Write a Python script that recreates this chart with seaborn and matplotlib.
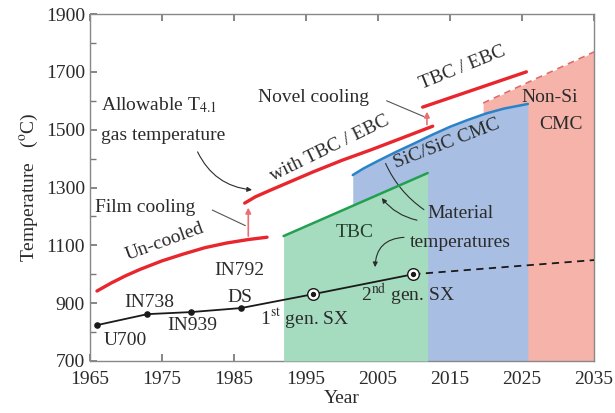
import numpy as np
import pandas as pd
import matplotlib
matplotlib.use("Agg")
import matplotlib.pyplot as plt
import seaborn as sns

# data
uncooled_year = [1966, 1968, 1970, 1972, 1975, 1978, 1981, 1984, 1987, 1989.6]
uncooled_temp = [942, 970, 995, 1017, 1046, 1070, 1092, 1108, 1120, 1128]
tbc_year = [1986.5, 1988, 1990, 1993, 1996, 2000, 2004, 2008, 2012.6]
tbc_temp = [1246, 1268, 1290, 1322, 1354, 1394, 1430, 1468, 1512]
novel_year = [2011.2, 2025.6]
novel_temp = [1578, 1700]

green_year = [1991.9, 2011.9]
green_temp = [1132, 1350]
blue_year = [2001.5, 2003, 2005, 2007.5, 2010, 2012.5, 2015, 2017.5, 2020, 2022.5, 2025.8]
blue_temp = [1343, 1366, 1392, 1423, 1452, 1482, 1510, 1534, 1556, 1573, 1589]
pink_year = [2019.6, 2035]
pink_temp = [1592, 1769]

alloy_names = ["U700", "IN738", "IN939", "DS", "1st gen. SX", "2nd gen. SX"]
alloy_year = [1966, 1973, 1979, 1986, 1996, 2009.9]
alloy_temp = [824, 862, 869, 883, 931, 1000]
future_year = [2009.9, 2035]
future_temp = [1000, 1049]

sns.set_theme(style="ticks")
plt.rcParams['font.family'] = ['Liberation Serif', 'DejaVu Serif']
plt.rcParams['mathtext.fontset'] = 'stix'

fig = plt.figure(figsize=(6.15, 4.13), dpi=100)
ax = fig.add_axes([0.146, 0.126, 0.82, 0.84])

red = '#e8262d'
txt = '#2b2b2b'
fs = 14

# filled regions
ax.fill_between(pink_year, pink_temp, 700, color='#f6b3a9', lw=0, zorder=1)
ax.fill_between(blue_year, blue_temp, 700, color='#a8bfe3', lw=0, zorder=2)
ax.fill_between(green_year, green_temp, 700, color='#a5dbbf', lw=0, zorder=3)

# lines
sns.lineplot(x=pink_year, y=pink_temp, ax=ax, color='#e06a6a', lw=1.2, ls=(0, (4, 3)), zorder=4)
sns.lineplot(x=blue_year, y=blue_temp, ax=ax, color='#2a82c8', lw=1.8, zorder=4)
sns.lineplot(x=green_year, y=green_temp, ax=ax, color='#22a050', lw=1.8, zorder=4)
for xs, ys in [(uncooled_year, uncooled_temp), (tbc_year, tbc_temp), (novel_year, novel_temp)]:
    sns.lineplot(x=xs, y=ys, ax=ax, color=red, lw=2.4, zorder=5)

# material temperature line
sns.lineplot(x=alloy_year, y=alloy_temp, ax=ax, color='#1a1a1a', lw=1.3, zorder=5)
sns.lineplot(x=future_year, y=future_temp, ax=ax, color='#1a1a1a', lw=1.3, ls=(0, (4, 3)), zorder=5)
ax.scatter(alloy_year[:4], alloy_temp[:4], s=14, color='#1a1a1a', zorder=6)
ax.scatter(alloy_year[4:], alloy_temp[4:], s=70, color='white', edgecolor='#1a1a1a', lw=1, zorder=6)
ax.scatter(alloy_year[4:], alloy_temp[4:], s=8, color='#1a1a1a', zorder=7)

# cooling step arrows
ax.annotate('', xy=(1987, 1240), xytext=(1987, 1122),
            arrowprops=dict(arrowstyle='-|>', color='#e87070', lw=1.2, mutation_scale=8), zorder=5)
ax.annotate('', xy=(2011.8, 1572), xytext=(2011.8, 1508),
            arrowprops=dict(arrowstyle='-|>', color='#e87070', lw=1.2, mutation_scale=8), zorder=5)

# labels
ax.text(1966.6, 1585, 'Allowable T$_{4.1}$', fontsize=fs, color=txt, va='center')
ax.text(1966.6, 1481, 'gas temperature', fontsize=fs, color=txt, va='center')
ax.annotate('', xy=(1987.9, 1291), xytext=(1979.8, 1432),
            arrowprops=dict(arrowstyle='-|>', color=txt, lw=0.8, mutation_scale=7,
                            connectionstyle='arc3,rad=0.3'))
ax.text(1988.3, 1613, 'Novel cooling', fontsize=fs, color=txt, va='center')
ax.plot([2006.2, 2011.4], [1600, 1545], color='#555555', lw=0.8)
ax.text(2016.7, 1713, 'TBC / EBC', fontsize=fs, color=txt, ha='center', va='center', rotation=22)
ax.text(1998.3, 1436, 'with TBC / EBC', fontsize=fs, color=txt, ha='center', va='center', rotation=26)
ax.text(1965.7, 1232, 'Film cooling', fontsize=fs, color=txt, va='center')
ax.plot([1982.0, 1986.6], [1222, 1168], color='#555555', lw=0.8)
ax.text(1975.4, 1111, 'Un-cooled', fontsize=fs, color=txt, ha='center', va='center', rotation=20)

alloy_label_pos = [(1969.9, 772), (1973.3, 903), (1979.2, 824), (1985.8, 921),
                   (1994.9, 848), (2009.2, 928)]
alloy_label_txt = ['U700', 'IN738', 'IN939', 'DS', '1$^{\\rm st}$ gen. SX', '2$^{\\rm nd}$ gen. SX']
for (px, py), t in zip(alloy_label_pos, alloy_label_txt):
    ax.text(px, py, t, fontsize=fs, color=txt, ha='center', va='center')
ax.text(1985.8, 1014, 'IN792', fontsize=fs, color=txt, ha='center', va='center')

ax.text(2001.8, 1146, 'TBC', fontsize=fs, color='#24402f', ha='center', va='center')
ax.text(2014.6, 1452, 'SiC/SiC CMC', fontsize=fs, color=txt, ha='center', va='center', rotation=21)
ax.text(2028.8, 1613, 'Non-Si', fontsize=fs, color=txt, ha='center', va='center')
ax.text(2030.4, 1519, 'CMC', fontsize=fs, color=txt, ha='center', va='center')
ax.text(2016.5, 1211, 'Material', fontsize=fs, color=txt, ha='center', va='center')
ax.text(2016.4, 1111, 'temperatures', fontsize=fs, color=txt, ha='center', va='center')
ax.annotate('', xy=(2005.9, 1392), xytext=(2011.7, 1218),
            arrowprops=dict(arrowstyle='-', color=txt, lw=0.8, connectionstyle='arc3,rad=-0.15'))
ax.annotate('', xy=(2005.3, 1271), xytext=(2010.8, 1185),
            arrowprops=dict(arrowstyle='-|>', color=txt, lw=0.8, mutation_scale=7,
                            connectionstyle='arc3,rad=-0.2'))
ax.annotate('', xy=(2004.6, 1015), xytext=(2009.0, 1128),
            arrowprops=dict(arrowstyle='-|>', color=txt, lw=0.8, mutation_scale=7,
                            connectionstyle='arc3,rad=0.5'))

# axes
ax.set_xlim(1965, 2035)
ax.set_ylim(700, 1900)
ax.set_xticks(range(1965, 2036, 10))
ax.set_yticks(range(700, 1901, 200))
ax.set_yticks(range(800, 1900, 200), minor=True)
ax.tick_params(axis='both', which='both', direction='in', labelsize=fs, colors='#777777',
               labelcolor=txt, top=True, right=False)
ax.tick_params(which='major', length=5)
ax.tick_params(which='minor', length=4)
ax.tick_params(axis='x', pad=7)
for s in ax.spines.values():
    s.set_color('#888888')
    s.set_linewidth(1.0)
ax.set_xlabel('Year', fontsize=fs, color=txt, labelpad=2)
ax.set_ylabel('Temperature   ($^{\\rm o}$C)', fontsize=fs, color=txt, labelpad=4)

fig.savefig('out.png', dpi=100)
